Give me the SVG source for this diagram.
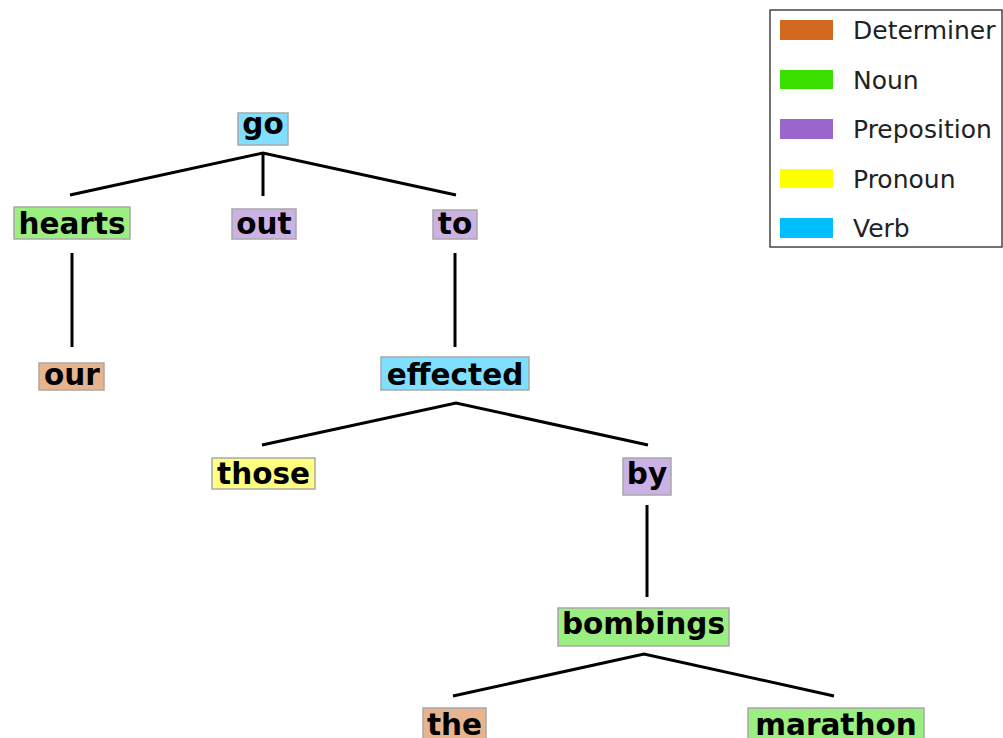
<svg xmlns="http://www.w3.org/2000/svg" width="1003" height="738" viewBox="0 0 1003 738">
<style>
.lbl{font-family:"DejaVu Sans",sans-serif;font-weight:bold;font-size:29.5px;text-anchor:middle;fill:#000}
.box{stroke:#a8a8a8;stroke-width:1.5}
.det{fill:#e8b48e}.noun{fill:#9bee80}.prep{fill:#cbb2e5}.pron{fill:#ffff80}.verb{fill:#80dfff}
.edge{stroke:#000;stroke-width:3;fill:none}
.leg{font-family:"DejaVu Sans",sans-serif;font-size:25px;fill:#222}
</style>
<rect width="1003" height="738" fill="#fff"/>
<g id="connectors">
<polyline class="edge" points="70,195 263,153 456,195"/>
<line class="edge" x1="263" y1="153" x2="263" y2="196"/>
<line class="edge" x1="72" y1="253" x2="72" y2="347"/>
<line class="edge" x1="455" y1="253" x2="455" y2="347"/>
<polyline class="edge" points="262,445 456,403 648,445"/>
<line class="edge" x1="647" y1="505" x2="647" y2="597"/>
<polyline class="edge" points="453,696 644,654 834,696"/>
</g>
<g id="node-go"><rect class="box verb" x="238" y="113" width="50" height="32"/><text class="lbl" x="263" y="134">go</text></g>
<g id="node-hearts"><rect class="box noun" x="14" y="207" width="116" height="32"/><text class="lbl" x="72" y="234">hearts</text></g>
<g id="node-out"><rect class="box prep" x="232" y="209" width="64" height="30"/><text class="lbl" x="264" y="234">out</text></g>
<g id="node-to"><rect class="box prep" x="433" y="210" width="44" height="29"/><text class="lbl" x="455" y="234">to</text></g>
<g id="node-our"><rect class="box det" x="39" y="363" width="65" height="27"/><text class="lbl" x="72" y="385">our</text></g>
<g id="node-effected"><rect class="box verb" x="381" y="357" width="148" height="33"/><text class="lbl" x="455" y="385">effected</text></g>
<g id="node-those"><rect class="box pron" x="212" y="458" width="103" height="31"/><text class="lbl" x="263.5" y="484">those</text></g>
<g id="node-by"><rect class="box prep" x="623" y="458" width="48" height="37"/><text class="lbl" x="647" y="484">by</text></g>
<g id="node-bombings"><rect class="box noun" x="558" y="608" width="171" height="38"/><text class="lbl" x="643.5" y="634">bombings</text></g>
<g id="node-the"><rect class="box det" x="423" y="708" width="63" height="38"/><text class="lbl" x="454.5" y="735">the</text></g>
<g id="node-marathon"><rect class="box noun" x="748" y="708" width="176" height="38"/><text class="lbl" x="836" y="735">marathon</text></g>
<g id="legend">
<rect x="770" y="10" width="232" height="237" fill="#fff" stroke="#444" stroke-width="1.5"/>
<rect x="780" y="20" width="53" height="20" fill="#d2691e"/>
<rect x="780" y="70" width="53" height="19" fill="#3ade00"/>
<rect x="780" y="119" width="53" height="20" fill="#9966cc"/>
<rect x="780" y="169" width="53" height="19" fill="#ffff00"/>
<rect x="780" y="218" width="53" height="20" fill="#00bfff"/>
<text class="leg" x="853" y="39">Determiner</text>
<text class="leg" x="853" y="89">Noun</text>
<text class="leg" x="853" y="138">Preposition</text>
<text class="leg" x="853" y="188">Pronoun</text>
<text class="leg" x="853" y="237">Verb</text>
</g>
</svg>
